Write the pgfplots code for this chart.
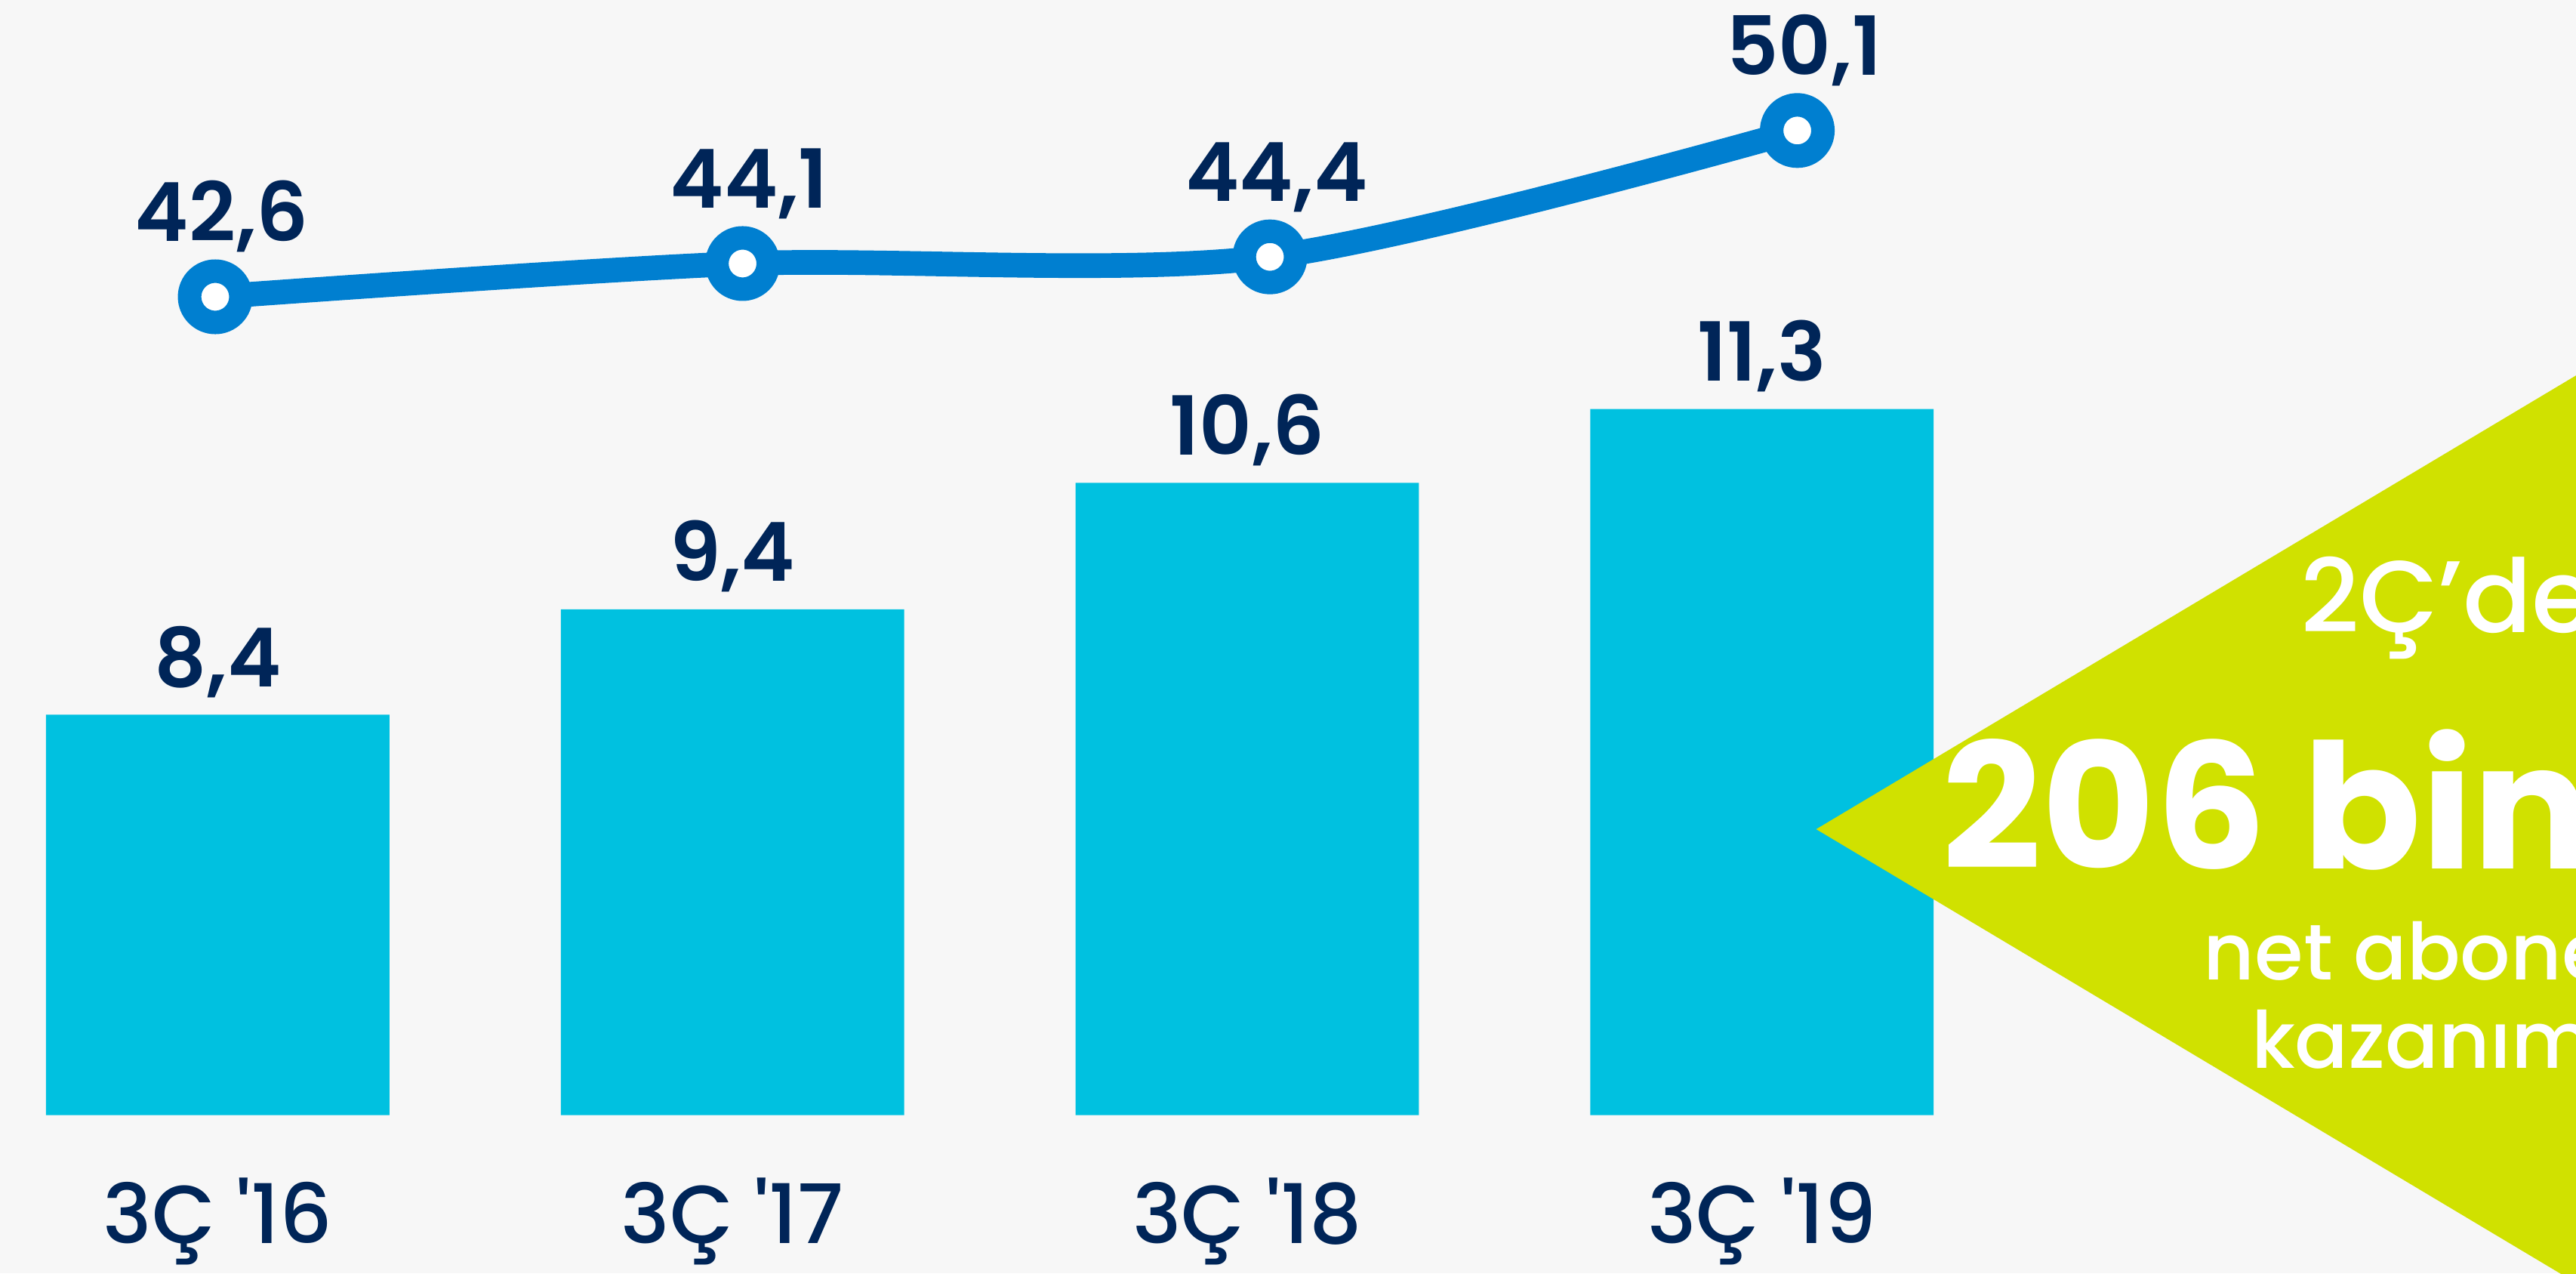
\documentclass[border=0pt]{standalone}
\usepackage{fontspec}
\setmainfont{Poppins}
\newfontfamily\semib{Poppins SemiBold}
\newfontfamily\med{Poppins Medium}
\usepackage{pgfplots}
\pgfplotsset{compat=1.18}
\definecolor{bg}{RGB}{247,247,247}
\definecolor{barc}{RGB}{0,193,224}
\definecolor{linec}{RGB}{0,127,208}
\definecolor{navy}{RGB}{0,37,88}
\definecolor{lime}{RGB}{208,225,0}
\begin{document}
\begin{tikzpicture}
\path[use as bounding box] (0pt,0pt) rectangle (784pt,387.5pt);
\clip (0pt,0pt) rectangle (784pt,387.5pt);
\fill[bg] (0pt,0pt) rectangle (784pt,387.5pt);
\begin{axis}[
  at={(3.6pt,48.2pt)}, anchor=south west, scale only axis,
  width=595.3pt, height=269.35pt,
  xmin=-0.4, xmax=3.4, ymin=4.6, ymax=13,
  axis line style={draw=none}, major tick style={draw=none},
  ytick=\empty, xtick={0,1,2,3},
  xticklabels={3Ç \textquotesingle 16, 3Ç \textquotesingle 17, 3Ç \textquotesingle 18, 3Ç \textquotesingle 19},
  xticklabel style={font=\med\fontsize{25}{30}\selectfont, text=navy, anchor=base, inner sep=0pt, yshift=-39.1pt},
  nodes near coords,
  every node near coord/.append style={font=\semib\fontsize{24.8}{30}\selectfont, text=navy, anchor=base, inner sep=0pt, yshift=8.5pt},
  /pgf/number format/use comma, /pgf/number format/fixed, /pgf/number format/fixed zerofill,
  /pgf/number format/precision=1, /pgf/number format/assume math mode=true,
]
\addplot[ybar, bar width=104.5pt, fill=barc, draw=none] coordinates {(0,8.4) (1,9.4) (2,10.6) (3,11.3)};
\end{axis}
\begin{axis}[
  at={(1.3pt,279.65pt)}, anchor=south west, scale only axis,
  width=609.9pt, height=80.95pt,
  xmin=-0.4, xmax=3.4, ymin=40, ymax=52,
  hide axis, clip=false,
  nodes near coords,
  every node near coord/.append style={font=\semib\fontsize{24.8}{30}\selectfont, text=navy, anchor=base, inner sep=0pt, yshift=16.9pt, xshift=2pt},
  /pgf/number format/use comma, /pgf/number format/fixed, /pgf/number format/fixed zerofill,
  /pgf/number format/precision=1, /pgf/number format/assume math mode=true,
]
\addplot[linec, line width=7.5pt, smooth, mark=*, mark size=7.8pt,
  mark options={solid, fill=white, draw=linec, line width=7.15pt}]
  coordinates {(0,42.6) (1,44.1) (2,44.4) (3,50.1)};
\end{axis}
\begin{scope}[x=0.5pt,y=0.5pt]
\fill[lime] (1105.5,270.4) -- (2000,804.4) -- (2000,-263.6) -- cycle;
\node[anchor=base west, inner sep=0pt, text=white, font=\med\fontsize{31}{36}\selectfont] at (1400,390.3) {2Ç’de};
\node[anchor=base west, inner sep=0pt, text=white, font=\bfseries\fontsize{53}{60}\selectfont] at (1182,246.5) {206 bin};
\node[anchor=base west, inner sep=0pt, text=white, font=\med\fontsize{24}{28}\selectfont] at (1341,178.5) {net abone};
\node[anchor=base west, inner sep=0pt, text=white, font=\med\fontsize{24}{28}\selectfont] at (1370,124.8) {kazanımı};
\end{scope}
\end{tikzpicture}
\end{document}
